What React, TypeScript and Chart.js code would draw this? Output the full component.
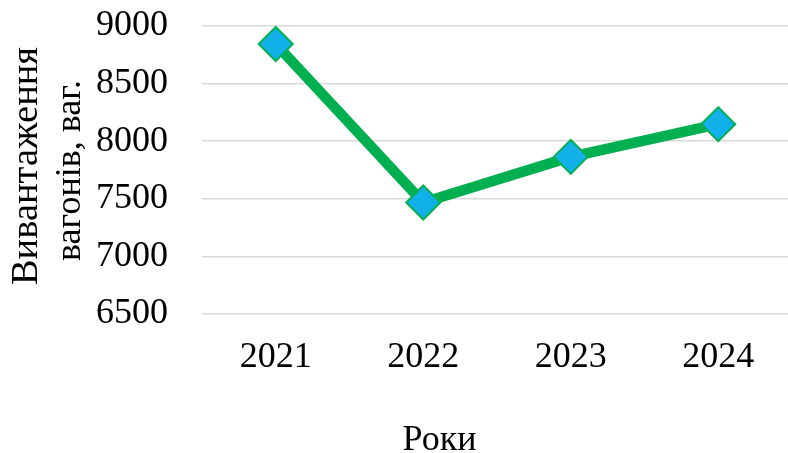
import React, { useEffect, useRef } from "react";
import { Chart, registerables } from "chart.js";

Chart.register(...registerables);

const categories = ["2021", "2022", "2023", "2024"];
const values = [8844, 7468, 7864, 8148];
const yTicks = [6500, 7000, 7500, 8000, 8500, 9000];
const yTitleLines = ["Вивантаження", "вагонів, ваг."];
const xTitle = "Роки";

const FONT = "'Liberation Serif', 'Times New Roman', serif";

const titlesPlugin = {
  id: "customTitles",
  afterDraw(chart: any) {
    const ctx = chart.ctx;
    ctx.save();
    ctx.fillStyle = "#000";
    ctx.textAlign = "center";
    ctx.textBaseline = "alphabetic";
    const lineXs = [37, 80];
    const lineCs = [166, 170.5];
    const sizes = [38.5, 36];
    yTitleLines.forEach((t, i) => {
      ctx.save();
      ctx.font = `${sizes[i]}px ${FONT}`;
      ctx.translate(lineXs[i], lineCs[i]);
      ctx.rotate(-Math.PI / 2);
      ctx.fillText(t, 0, 0);
      ctx.restore();
    });
    ctx.font = `36px ${FONT}`;
    ctx.fillText(xTitle, 439.5, 450);
    ctx.restore();
  },
};

export default function App() {
  const ref = useRef<HTMLCanvasElement>(null);
  useEffect(() => {
    if (!ref.current) return;
    const chart = new Chart(ref.current, {
      type: "line",
      data: {
        labels: categories,
        datasets: [
          {
            data: values,
            borderColor: "#00B050",
            borderWidth: 10.5,
            backgroundColor: "#12B0E8",
            pointStyle: "rectRot",
            pointRadius: 17,
            pointBackgroundColor: "#12B0E8",
            pointBorderColor: "#00B050",
            pointBorderWidth: 2,
            tension: 0,
          },
        ],
      },
      options: {
        responsive: false,
        animation: false,
        events: [],
        layout: { autoPadding: false, padding: { left: 0, top: 26, right: 0, bottom: 0 } },
        plugins: { legend: { display: false }, tooltip: { enabled: false }, title: { display: false } },
        scales: {
          x: {
            offset: true,
            grid: { display: false, drawTicks: false },
            border: { display: false },
            ticks: { color: "#000", font: { family: FONT, size: 36 }, padding: 22, maxRotation: 0 },
            afterFit: (s: any) => {
              s.height = 453 - 314;
              s.paddingLeft = 0;
              s.paddingRight = 0;
            },
          },
          y: {
            min: 6500,
            max: 9000,
            afterBuildTicks: (s: any) => {
              s.ticks = yTicks.map((v) => ({ value: v }));
            },
            grid: { color: "#D9D9D9", lineWidth: 1.5, drawTicks: false },
            border: { display: false },
            ticks: {
              color: "#000",
              font: { family: FONT, size: 36 },
              padding: 34,
              callback: (v: any) => String(v),
            },
            afterFit: (s: any) => {
              s.width = 202;
              s.paddingTop = 0;
              s.paddingBottom = 0;
            },
          },
        },
      },
      plugins: [titlesPlugin],
    });
    return () => chart.destroy();
  }, []);
  return (
    <div
      style={{
        position: "fixed",
        left: 0,
        top: 0,
        width: 788,
        height: 453,
        overflow: "hidden",
        background: "#fff",
      }}
    >
      <canvas ref={ref} width={792} height={453} style={{ display: "block" }} />
    </div>
  );
}
